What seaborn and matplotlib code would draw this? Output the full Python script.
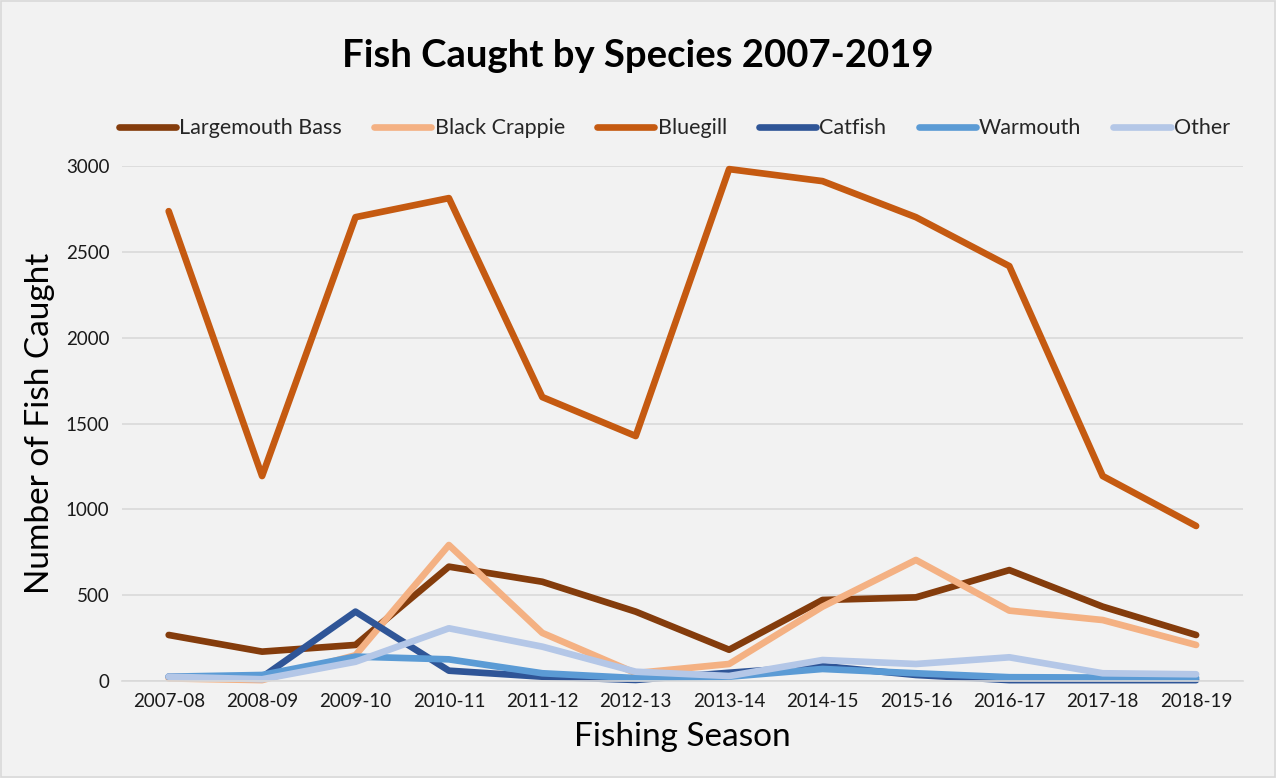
import matplotlib
matplotlib.use("Agg")
import matplotlib.pyplot as plt
import seaborn as sns
import pandas as pd
from matplotlib.patches import Rectangle

seasons = ["2007-08", "2008-09", "2009-10", "2010-11", "2011-12", "2012-13",
           "2013-14", "2014-15", "2015-16", "2016-17", "2017-18", "2018-19"]

largemouth_bass = [268, 171, 210, 666, 578, 404, 182, 472, 487, 646, 433, 268]
black_crappie = [15, 5, 150, 792, 280, 46, 99, 433, 705, 410, 355, 210]
bluegill = [2737, 1194, 2702, 2813, 1654, 1427, 2982, 2912, 2702, 2417, 1194, 903]
catfish = [25, 22, 404, 60, 25, 6, 48, 87, 35, 5, 5, 5]
warmouth = [25, 35, 142, 126, 45, 17, 25, 70, 45, 22, 20, 18]
other = [25, 10, 112, 307, 200, 54, 29, 122, 99, 138, 45, 39]

species = ["Largemouth Bass", "Black Crappie", "Bluegill", "Catfish", "Warmouth", "Other"]
series = [largemouth_bass, black_crappie, bluegill, catfish, warmouth, other]
colors = ["#843C0C", "#F4B183", "#C55A11", "#2F5597", "#5B9BD5", "#B4C7E7"]

rows = []
for name, vals in zip(species, series):
    for i, (s, v) in enumerate(zip(seasons, vals)):
        rows.append({"idx": i, "Season": s, "Species": name, "Count": v})
df = pd.DataFrame(rows)

sns.set_theme(style="white")
plt.rcParams["font.family"] = ["Lato", "DejaVu Sans"]

bg = "#F2F2F2"
lw = 4.8
fig = plt.figure(figsize=(12.76, 7.78), dpi=100, facecolor=bg)
ax = fig.add_axes([0.0956, 0.1247, 0.8784, 0.6619], facecolor=bg)

sns.lineplot(data=df, x="idx", y="Count", hue="Species", hue_order=species,
             palette=colors, linewidth=lw, ax=ax, legend=False,
             solid_capstyle="round", solid_joinstyle="round", clip_on=False)

ax.set_xlim(-0.5, len(seasons) - 0.5)
ax.set_ylim(0, 3000)
ax.set_yticks(range(0, 3001, 500))
ax.set_xticks(range(len(seasons)))
ax.set_xticklabels(seasons)
ax.tick_params(axis="both", length=0, labelsize=13.5, colors="#1a1a1a", pad=9)
ax.grid(axis="y", color="#D9D9D9", linewidth=1.2)
ax.set_axisbelow(True)
for side in ["top", "right", "left"]:
    ax.spines[side].set_visible(False)
ax.spines["bottom"].set_color("#D9D9D9")
ax.spines["bottom"].set_linewidth(1.2)

ax.set_xlabel("Fishing Season", fontsize=24, color="black", labelpad=8)
ax.set_ylabel("Number of Fish Caught", fontsize=24, color="black", labelpad=8)

fig.text(0.5, 0.928, "Fish Caught by Species 2007-2019", ha="center", va="center",
         fontsize=27.5, fontweight="bold", color="black")

handles = [plt.Line2D([0], [0], color=c, linewidth=lw, solid_capstyle="round")
           for c in colors]
fig.legend(handles, species, loc="center", bbox_to_anchor=(0.5286, 0.835), ncol=6,
           frameon=False, fontsize=15.5, handlelength=2.65, handletextpad=0.15,
           columnspacing=1.5)

fig.add_artist(Rectangle((0.001, 0.001), 0.998, 0.998, transform=fig.transFigure,
                         fill=False, edgecolor="#D9D9D9", linewidth=1.2))

fig.savefig("out.png", dpi=100, facecolor=bg)
